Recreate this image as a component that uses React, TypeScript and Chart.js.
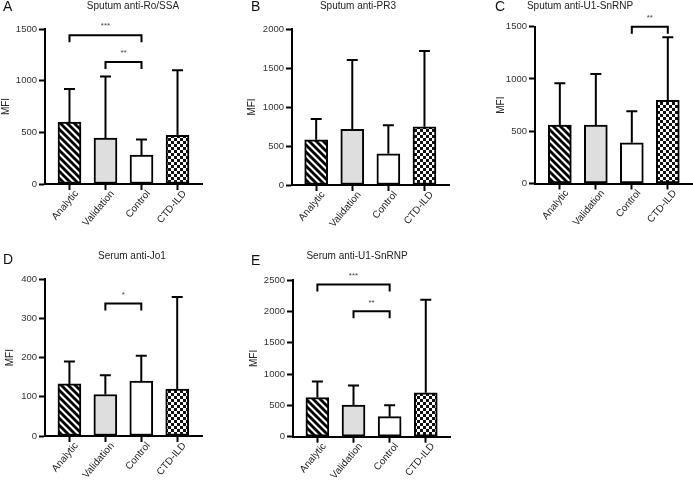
import React, { useEffect, useRef } from 'react';
import { Chart, registerables } from 'chart.js';

Chart.register(...registerables);

// ---------- data ----------
const categories = ['Analytic', 'Validation', 'Control', 'CTD-ILD'];

const roSsaMeans = [600, 445, 280, 470];
const roSsaUpper = [920, 1040, 430, 1100];
const roSsaTicks = [0, 500, 1000, 1500];
const roSsaBrackets: [number, number, number, string][] = [
  [0, 2, 1440, '***'],
  [1, 2, 1180, '**'],
];

const pr3Means = [580, 714, 400, 747];
const pr3Upper = [846, 1603, 765, 1718];
const pr3Ticks = [0, 500, 1000, 1500, 2000];
const pr3Brackets: [number, number, number, string][] = [];

const sputumU1Means = [558, 560, 390, 795];
const sputumU1Upper = [958, 1047, 690, 1400];
const sputumU1Ticks = [0, 500, 1000, 1500];
const sputumU1Brackets: [number, number, number, string][] = [[2, 3, 1500, '**']];

const jo1Means = [133, 106, 140, 120];
const jo1Upper = [190, 155, 205, 355];
const jo1Ticks = [0, 100, 200, 300, 400];
const jo1Brackets: [number, number, number, string][] = [[1, 2, 338, '*']];

const serumU1Means = [625, 505, 320, 700];
const serumU1Upper = [880, 815, 500, 2185];
const serumU1Ticks = [0, 500, 1000, 1500, 2000, 2500];
const serumU1Brackets: [number, number, number, string][] = [
  [0, 2, 2430, '***'],
  [1, 2, 2000, '**'],
];

// ---------- panels (layout separate from data) ----------
const FONT = "'Liberation Sans', Arial, Helvetica, sans-serif";

const panels = [
  {
    letter: 'A', title: 'Sputum anti-Ro/SSA', means: roSsaMeans, upper: roSsaUpper, ticks: roSsaTicks, brackets: roSsaBrackets,
    left: 0, top: 0, axisX: 45, topY: 29, baseY: 184, right: 202, xmin: -0.68, xmax: 3.68,
    titleX: 133, titleY: 6, letterX: 3, letterY: 7, mfiPad: 0,
  },
  {
    letter: 'B', title: 'Sputum anti-PR3', means: pr3Means, upper: pr3Upper, ticks: pr3Ticks, brackets: pr3Brackets,
    left: 231, top: 0, axisX: 61, topY: 29, baseY: 185, right: 218, xmin: -0.67, xmax: 3.68,
    titleX: 127, titleY: 6, letterX: 20, letterY: 7, mfiPad: 15,
  },
  {
    letter: 'C', title: 'Sputum anti-U1-SnRNP', means: sputumU1Means, upper: sputumU1Upper, ticks: sputumU1Ticks, brackets: sputumU1Brackets,
    left: 462, top: 0, axisX: 73, topY: 26.7, baseY: 183.5, right: 231, xmin: -0.69, xmax: 3.70,
    titleX: 118, titleY: 6, letterX: 33, letterY: 7, mfiPad: 33,
  },
  {
    letter: 'D', title: 'Serum anti-Jo1', means: jo1Means, upper: jo1Upper, ticks: jo1Ticks, brackets: jo1Brackets,
    left: 0, top: 240, axisX: 45, topY: 39.3, baseY: 196, right: 202, xmin: -0.68, xmax: 3.69,
    titleX: 132, titleY: 16, letterX: 3, letterY: 20, mfiPad: 4,
  },
  {
    letter: 'E', title: 'Serum anti-U1-SnRNP', means: serumU1Means, upper: serumU1Upper, ticks: serumU1Ticks, brackets: serumU1Brackets,
    left: 231, top: 240, axisX: 62, topY: 40, baseY: 196.7, right: 219.7, xmin: -0.675, xmax: 3.69,
    titleX: 126, titleY: 16, letterX: 20, letterY: 21.5, mfiPad: 17,
  },
];

const PW = 231;
const PH = 240;

function makeStripe(): CanvasPattern | string {
  const c = document.createElement('canvas');
  const s = 7;
  c.width = s; c.height = s;
  const g = c.getContext('2d');
  if (!g) return '#000';
  g.fillStyle = '#fff';
  g.fillRect(0, 0, s, s);
  g.strokeStyle = '#000';
  g.lineWidth = 2.8;
  for (const o of [-s, 0, s]) {
    g.beginPath();
    g.moveTo(o - 1, -1);
    g.lineTo(o + s + 1, s + 1);
    g.stroke();
  }
  return g.createPattern(c, 'repeat') || '#000';
}

function makeChecker(): CanvasPattern | string {
  const c = document.createElement('canvas');
  const s = 6;
  c.width = s; c.height = s;
  const g = c.getContext('2d');
  if (!g) return '#777';
  g.fillStyle = '#fff';
  g.fillRect(0, 0, s, s);
  g.fillStyle = '#111';
  g.fillRect(0, 0, 3, 3);
  g.fillRect(3, 3, 3, 3);
  return g.createPattern(c, 'repeat') || '#777';
}

function Panel({ p }: { p: typeof panels[number] }) {
  const ref = useRef<HTMLCanvasElement | null>(null);
  useEffect(() => {
    const canvas = ref.current;
    if (!canvas) return;
    const fills = [makeStripe(), '#dedede', '#ffffff', makeChecker()];

    const annotate = {
      id: 'annotate',
      afterDatasetsDraw(chart: any) {
        const { ctx } = chart;
        const xs = chart.scales.x;
        const ys = chart.scales.y;
        ctx.save();
        ctx.strokeStyle = '#000';
        ctx.lineWidth = 2;
        ctx.lineJoin = 'miter';
        p.means.forEach((m, i) => {
          const x = xs.getPixelForValue(i);
          const y0 = ys.getPixelForValue(m);
          const y1 = ys.getPixelForValue(p.upper[i]);
          ctx.beginPath();
          ctx.moveTo(x, y0);
          ctx.lineTo(x, y1);
          ctx.moveTo(x - 5.5, y1);
          ctx.lineTo(x + 5.5, y1);
          ctx.stroke();
        });
        ctx.fillStyle = '#444';
        ctx.font = `8px ${FONT}`;
        ctx.textAlign = 'center';
        ctx.textBaseline = 'middle';
        p.brackets.forEach(([a, b, v, label]) => {
          const xa = xs.getPixelForValue(a);
          const xb = xs.getPixelForValue(b);
          const y = ys.getPixelForValue(v);
          ctx.beginPath();
          ctx.moveTo(xa, y + 7);
          ctx.lineTo(xa, y);
          ctx.lineTo(xb, y);
          ctx.lineTo(xb, y + 7);
          ctx.stroke();
          ctx.fillText(label, (xa + xb) / 2, y - 9);
        });
        ctx.fillStyle = '#222';
        ctx.font = `10px ${FONT}`;
        ctx.fillText(p.title, p.titleX, p.titleY);
        ctx.font = `14px ${FONT}`;
        ctx.textAlign = 'left';
        ctx.fillStyle = '#111';
        ctx.fillText(p.letter, p.letterX, p.letterY);
        ctx.restore();
      },
    };

    const chart = new Chart(canvas, {
      type: 'bar',
      data: {
        datasets: [
          {
            data: p.means.map((y, i) => ({ x: i, y })),
            backgroundColor: fills as any,
            borderColor: '#000',
            borderWidth: 2,
            borderSkipped: false,
            barThickness: 23,
          },
        ],
      },
      options: {
        responsive: false,
        animation: false,
        devicePixelRatio: 1,
        layout: { padding: { top: p.topY, right: PW - p.right, bottom: 0, left: 0 } },
        plugins: { legend: { display: false }, tooltip: { enabled: false }, title: { display: false } },
        scales: {
          x: {
            type: 'linear',
            offset: false,
            min: p.xmin,
            max: p.xmax,
            afterBuildTicks: (s: any) => {
              s.ticks = categories.map((_, i) => ({ value: i }));
            },
            afterFit: (s: any) => {
              s.height = PH - p.baseY;
              s.paddingLeft = 0;
              s.paddingRight = 0;
            },
            ticks: {
              autoSkip: false,
              minRotation: 50,
              maxRotation: 50,
              padding: -2,
              labelOffset: 7,
              color: '#222',
              font: { family: FONT, size: 10 },
              callback: (v: any) => categories[v] ?? '',
            },
            grid: { offset: false, drawOnChartArea: false, drawTicks: true, tickLength: 6, tickWidth: 2, tickColor: '#000' },
            border: { display: true, color: '#000', width: 2 },
          },
          y: {
            min: p.ticks[0],
            max: p.ticks[p.ticks.length - 1],
            afterBuildTicks: (s: any) => {
              s.ticks = p.ticks.map((v) => ({ value: v }));
            },
            afterFit: (s: any) => {
              s.width = p.axisX;
              s.paddingTop = 0;
              s.paddingBottom = 0;
            },
            ticks: {
              padding: 2,
              color: '#333',
              font: { family: FONT, size: 9.5 },
              callback: (v: any) => String(v),
            },
            grid: { drawOnChartArea: false, drawTicks: true, tickLength: 6, tickWidth: 2, tickColor: '#000' },
            border: { display: true, color: '#000', width: 2 },
            title: {
              display: true,
              text: 'MFI',
              color: '#222',
              font: { family: FONT, size: 10 },
              padding: { top: p.mfiPad, bottom: 0 },
            },
          },
        },
      },
      plugins: [annotate],
    } as any);
    return () => chart.destroy();
  }, [p]);

  return (
    <canvas
      ref={ref}
      width={PW}
      height={PH}
      style={{ position: 'absolute', left: p.left, top: p.top, width: PW, height: PH }}
    />
  );
}

export default function App() {
  useEffect(() => {
    document.body.style.margin = '0';
  }, []);
  return (
    <div style={{ position: 'relative', width: 693, height: 480, background: '#fff', overflow: 'hidden' }}>
      {panels.map((p) => (
        <Panel key={p.letter} p={p} />
      ))}
    </div>
  );
}
